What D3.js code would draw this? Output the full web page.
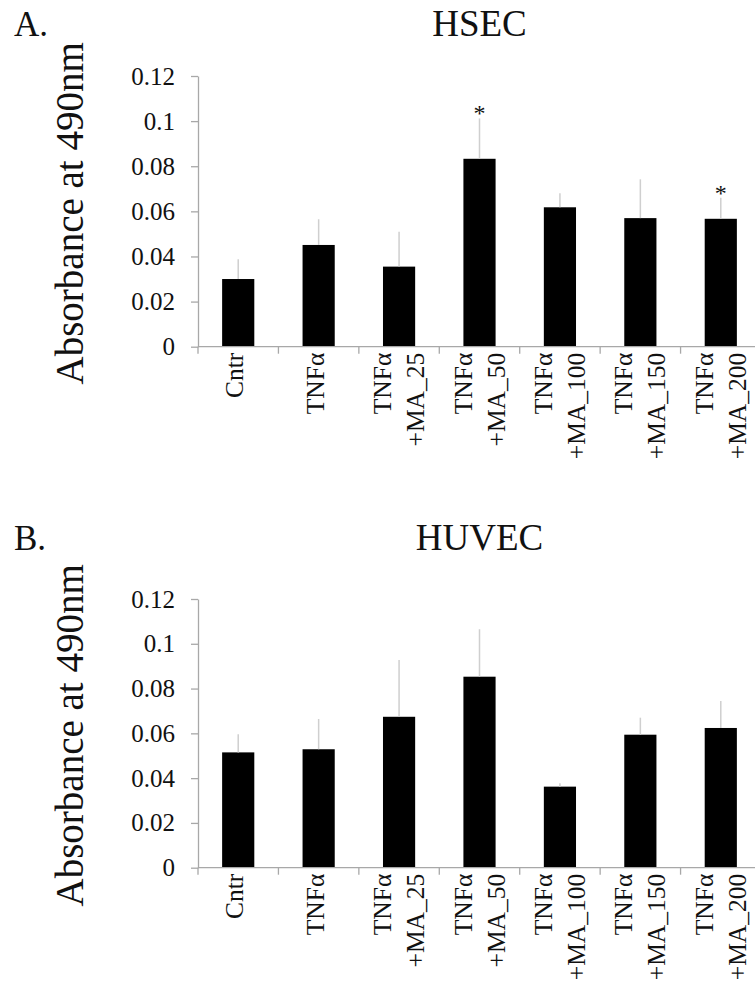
<!DOCTYPE html>
<html>
<head>
<meta charset="utf-8">
<script src="https://cdn.jsdelivr.net/npm/d3@7"></script>
<style>
  html, body { margin: 0; padding: 0; background: #fff; }
  svg { display: block; }
  svg text { font-family: "Liberation Serif", "Times New Roman", serif; fill: #111; }
</style>
</head>
<body>
<svg id="fig" width="755" height="983"></svg>
<script>
// Treatment groups (each label split into its printed lines)
const categories = ["Cntr", "TNFα", "TNFα+MA_25", "TNFα+MA_50", "TNFα+MA_100", "TNFα+MA_150", "TNFα+MA_200"];
const categoryLines = [["Cntr"], ["TNFα"], ["TNFα", "+MA_25"], ["TNFα", "+MA_50"], ["TNFα", "+MA_100"], ["TNFα", "+MA_150"], ["TNFα", "+MA_200"]];

// Absorbance at 490 nm, mean and upper error
const hsecMean = [0.0300, 0.0451, 0.0355, 0.0833, 0.0618, 0.0570, 0.0567];
const hsecErr  = [0.0088, 0.0114, 0.0155, 0.0179, 0.0062, 0.0172, 0.0093];
const hsecSig  = [false, false, false, true, false, false, true];

const huvecMean = [0.0515, 0.0529, 0.0674, 0.0853, 0.0362, 0.0594, 0.0624];
const huvecErr  = [0.0081, 0.0135, 0.0254, 0.0212, 0.0015, 0.0076, 0.0120];
const huvecSig  = [false, false, false, false, false, false, false];

const yTicks = [0, 0.02, 0.04, 0.06, 0.08, 0.1, 0.12];

const svg = d3.select("#fig");
const serif = "Liberation Serif, Times New Roman, serif";
const axisColor = "#a8a8a8";
const errColor = "#cfcfcf";

function panel(opts) {
  const { letter, title, means, errs, sig, top, bottom, letterY, titleY } = opts;
  const left = 198, right = 761;

  const x = d3.scaleBand().domain(categories).range([left, right])
    .paddingInner(0.6).paddingOuter(0.3);
  const y = d3.scaleLinear().domain([0, 0.12]).range([bottom, top]);
  const step = x.step();

  const g = svg.append("g").attr("font-family", serif);

  // panel letter and title
  g.append("text").attr("x", 14).attr("y", letterY)
    .attr("font-size", 35).text(letter);
  g.append("text").attr("x", (left + right) / 2).attr("y", titleY)
    .attr("text-anchor", "middle").attr("font-size", 37).text(title);

  // y axis
  const yAxis = d3.axisLeft(y).tickValues(yTicks)
    .tickFormat(d3.format("~g")).tickSize(7).tickSizeOuter(0).tickPadding(16);
  const ya = g.append("g").attr("transform", `translate(${left},0)`).call(yAxis)
    .attr("font-family", serif);
  ya.select(".domain").attr("stroke", axisColor).attr("stroke-width", 1.3);
  ya.selectAll(".tick line").attr("stroke", axisColor).attr("stroke-width", 1.3);
  ya.selectAll(".tick text").attr("font-size", 25)
    .attr("font-family", serif).attr("fill", "#333");

  // y axis title
  g.append("text")
    .attr("transform", `translate(83,${(top + bottom) / 2 + 2}) rotate(-90)`)
    .attr("text-anchor", "middle").attr("font-size", 39)
    .text("Absorbance at 490nm");

  // bars
  g.selectAll("rect.bar").data(categories).enter().append("rect")
    .attr("class", "bar")
    .attr("x", d => x(d))
    .attr("width", x.bandwidth())
    .attr("y", (d, i) => y(means[i]))
    .attr("height", (d, i) => y(0) - y(means[i]))
    .attr("fill", "#000");

  // upper error bars
  g.selectAll("line.err").data(categories).enter().append("line")
    .attr("class", "err")
    .attr("x1", d => x(d) + x.bandwidth() / 2)
    .attr("x2", d => x(d) + x.bandwidth() / 2)
    .attr("y1", (d, i) => y(means[i]))
    .attr("y2", (d, i) => y(means[i] + errs[i]))
    .attr("stroke", errColor).attr("stroke-width", 1.5);

  // significance marks
  g.selectAll("text.sig").data(categories.filter((d, i) => sig[i])).enter().append("text")
    .attr("class", "sig")
    .attr("x", d => x(d) + x.bandwidth() / 2)
    .attr("y", d => { const i = categories.indexOf(d); return y(means[i] + errs[i]) + 3; })
    .attr("text-anchor", "middle").attr("font-size", 24).text("*");

  // x axis baseline with category boundary ticks
  g.append("line").attr("x1", left).attr("x2", right)
    .attr("y1", y(0)).attr("y2", y(0))
    .attr("stroke", axisColor).attr("stroke-width", 1.3);
  const bounds = categories.map(d => x(d) + x.bandwidth() / 2 - step / 2);
  g.selectAll("line.xt").data(bounds).enter().append("line")
    .attr("class", "xt")
    .attr("x1", d => d).attr("x2", d => d)
    .attr("y1", y(0)).attr("y2", y(0) + 7)
    .attr("stroke", axisColor).attr("stroke-width", 1.3);

  // rotated category labels
  categories.forEach((c, i) => {
    const cx = x(c) + x.bandwidth() / 2;
    const lines = categoryLines[i];
    const offsets = lines.length === 1 ? [5] : [-8, 25];
    const lg = g.append("g").attr("transform", `translate(${cx},${y(0) + 6}) rotate(-90)`);
    lines.forEach((t, k) => {
      lg.append("text").attr("x", 0).attr("y", offsets[k])
        .attr("text-anchor", "end").attr("font-size", 25.5).attr("fill", "#222").text(t);
    });
  });
}

panel({ letter: "A.", title: "HSEC", means: hsecMean, errs: hsecErr, sig: hsecSig,
        top: 76, bottom: 346.7, letterY: 36, titleY: 36 });
panel({ letter: "B.", title: "HUVEC", means: huvecMean, errs: huvecErr, sig: huvecSig,
        top: 599, bottom: 867.7, letterY: 550, titleY: 550 });
</script>
</body>
</html>
